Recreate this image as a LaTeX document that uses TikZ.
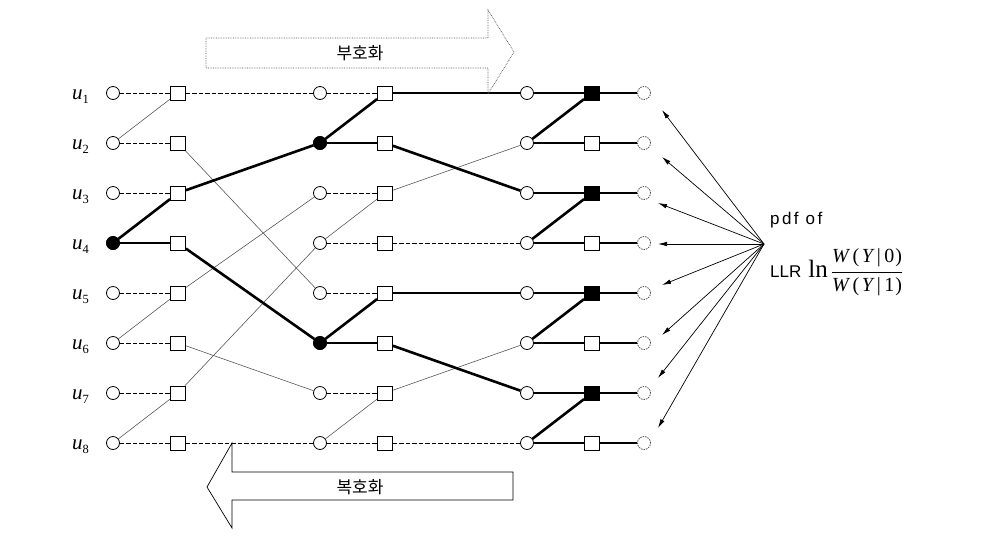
\documentclass[tikz,border=0pt]{standalone}
\usepackage{fontspec}
\newfontfamily\kr{Noto Sans CJK KR}
\newfontfamily\lat{Liberation Sans}
\newfontfamily\latw[LetterSpace=14]{Liberation Sans}
\newfontfamily\tms{Liberation Serif}
\usetikzlibrary{arrows.meta,backgrounds}
\newcommand\ulabtxt[1]{{\tms\fontsize{21}{22}\selectfont\itshape u}\raisebox{-4pt}{\tms\fontsize{12.5}{13}\selectfont #1}}
\newcommand\wyterm[1]{\hbox{\tms\fontsize{20}{21}\selectfont\itshape W\/\upshape\kern2.5pt(\kern2.5pt\itshape Y\/\upshape\kern2pt|\kern3.5pt#1\kern1pt)}}
\begin{document}
\begin{tikzpicture}[x=1pt,y=-1pt,
  cir/.style={circle,draw,fill=white,minimum size=13pt,inner sep=0pt,line width=0.8pt},
  sq/.style={rectangle,draw,fill=white,minimum width=15pt,minimum height=14pt,inner sep=0pt,line width=0.8pt},
  fcir/.style={cir,fill=black},
  fsq/.style={sq,fill=black},
  dcir/.style={cir,draw=black!70,dash pattern=on 1.5pt off 1pt},
  dsh/.style={line width=0.7pt,dash pattern=on 4.5pt off 2pt},
  thn/.style={line width=0.55pt,black!70},
  thk/.style={line width=2.6pt},
  arr/.style={line width=0.7pt,-{Latex[length=9pt,width=4.5pt]}},
  ulab/.style={inner sep=0pt,anchor=base west}
]
\useasboundingbox (0,0) rectangle (986,542);
\foreach \i in {1,...,8}{
  \pgfmathsetmacro\yy{93+50*(\i-1)}
  \node[ulab] (u\i) at (72,\yy+6.5) {\ulabtxt{\i}};
  \node[cir] (c0-\i) at (113,\yy) {};
  \node[sq]  (s1-\i) at (178,\yy) {};
  \node[cir] (c2-\i) at (320,\yy) {};
  \node[sq]  (s3-\i) at (385,\yy) {};
  \node[cir] (c4-\i) at (527,\yy) {};
  \node[sq]  (s5-\i) at (592,\yy) {};
  \node[dcir] (c6-\i) at (644,\yy) {};
}
\node[fcir] (c0-4) at (113,243) {};
\node[fcir] (c2-2) at (320,143) {};
\node[fcir] (c2-6) at (320,343) {};
\foreach \i in {1,3,5,7}{
  \pgfmathsetmacro\yy{93+50*(\i-1)}
  \node[fsq] (s5-\i) at (592,\yy) {};
}
\begin{scope}[on background layer]
% stage A
\foreach \i in {1,2,3,5,6,7,8} \draw[dsh] (c0-\i) -- (s1-\i);
\draw[thn] (c0-2) -- (s1-1);
\draw[thn] (c0-6) -- (s1-5);
\draw[thn] (c0-8) -- (s1-7);
\draw[thk] (c0-4) -- (s1-3);
\draw[thk] (c0-4) -- (s1-4);
% permutation 1
\draw[dsh] (s1-1) -- (c2-1);
\draw[dsh] (s1-8) -- (c2-8);
\draw[thn] (s1-2) -- (c2-5);
\draw[thn] (s1-5) -- (c2-3);
\draw[thn] (s1-6) -- (c2-7);
\draw[thn] (s1-7) -- (c2-4);
\draw[thk] (s1-3) -- (c2-2);
\draw[thk] (s1-4) -- (c2-6);
% stage B
\foreach \i in {1,3,4,5,7,8} \draw[dsh] (c2-\i) -- (s3-\i);
\draw[thn] (c2-4) -- (s3-3);
\draw[thn] (c2-8) -- (s3-7);
\draw[thk] (c2-2) -- (s3-1);
\draw[thk] (c2-2) -- (s3-2);
\draw[thk] (c2-6) -- (s3-5);
\draw[thk] (c2-6) -- (s3-6);
% permutation 2
\draw[dsh] (s3-4) -- (c4-4);
\draw[dsh] (s3-8) -- (c4-8);
\draw[thn] (s3-3) -- (c4-2);
\draw[thn] (s3-7) -- (c4-6);
\draw[thk] (s3-1) -- (c4-1);
\draw[thk] (s3-2) -- (c4-3);
\draw[thk] (s3-5) -- (c4-5);
\draw[thk] (s3-6) -- (c4-7);
% stage C and D
\foreach \i in {1,...,8}{
  \draw[thk] (c4-\i) -- (s5-\i);
  \draw[thk] (s5-\i) -- (c6-\i);
}
\draw[thk] (c4-2) -- (s5-1);
\draw[thk] (c4-4) -- (s5-3);
\draw[thk] (c4-6) -- (s5-5);
\draw[thk] (c4-8) -- (s5-7);
\end{scope}
% big arrows
\draw[black!70,line width=0.7pt,densely dotted] (206,38) -- (488,38) -- (488,10) -- (514,52) -- (488,94) -- (488,68) -- (206,68) -- cycle;
\node[font=\kr\fontsize{17}{20}\selectfont] (enc) at (360,53) {부호화};
\draw[line width=0.7pt] (513,472) -- (232,472) -- (232,443) -- (207,487) -- (232,528) -- (232,500) -- (513,500) -- cycle;
\node[font=\kr\fontsize{17}{20}\selectfont] (dec) at (360,487) {복호화};
% pdf arrows
\coordinate (src) at (764,244);
\coordinate (t1) at (662,110);
\coordinate (t2) at (662,157);
\coordinate (t3) at (658,203);
\coordinate (t4) at (658,244);
\coordinate (t5) at (662,285);
\coordinate (t6) at (662,335);
\coordinate (t7) at (658,378);
\coordinate (t8) at (658,428);
\foreach \k in {1,...,8} \draw[arr] (src) -- (t\k);
\node[anchor=west,inner sep=0pt,font=\latw\fontsize{17}{20}\selectfont] (pdf) at (770,220) {pdf of};
\node[anchor=base west,inner sep=0pt,font=\lat\fontsize{17}{20}\selectfont] (llr) at (770,277) {LLR\kern7pt{\tms\fontsize{25}{26}\selectfont ln}\kern3pt\fontsize{20}{21}\selectfont$\displaystyle\frac{\wyterm{0}}{\wyterm{1}}$};
\end{tikzpicture}
\end{document}
